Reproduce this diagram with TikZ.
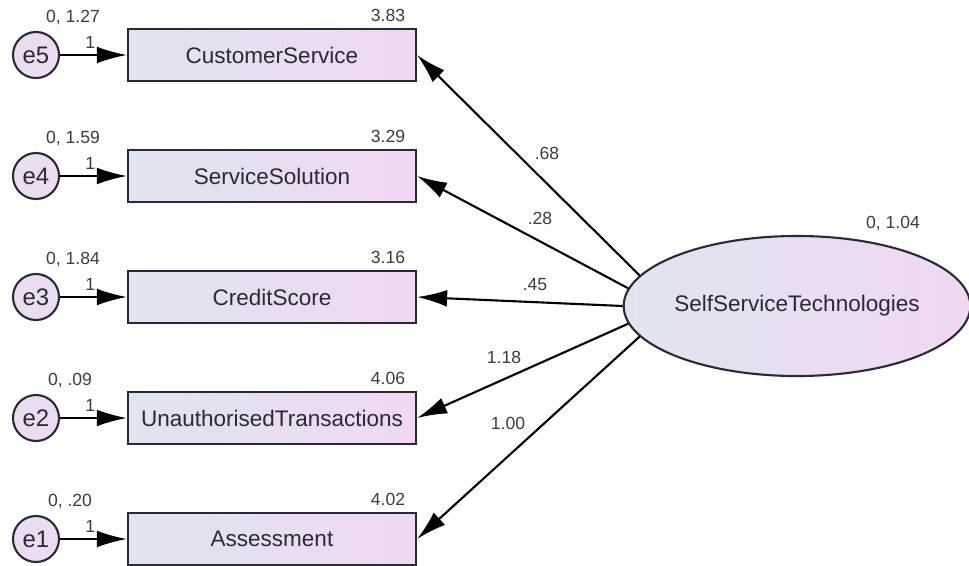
\documentclass[tikz,border=0pt]{standalone}
\usepackage{fontspec}
\setmainfont{Liberation Sans}
\usetikzlibrary{arrows.meta,positioning,shapes.geometric}

\definecolor{boxleft}{HTML}{DFE5EE}
\definecolor{boxright}{HTML}{F0D8F2}
\definecolor{errfill}{HTML}{EADDF0}
\definecolor{estgray}{HTML}{3C3C3C}
\definecolor{inkdark}{HTML}{2A2A36}

\begin{document}
\begin{tikzpicture}[x=0.025cm,y=-0.025cm,
    obs/.style={draw=inkdark,line width=1.5pt,minimum width=7.2cm,minimum height=1.3cm,
      left color=boxleft,right color=boxright,text=inkdark,inner sep=0pt,
      font=\fontsize{16}{18}\selectfont},
    err/.style={circle,draw=inkdark,line width=1.5pt,fill=errfill,minimum size=1.15cm,
      inner sep=0pt,text=inkdark,font=\fontsize{17}{19}\selectfont},
    latent/.style={ellipse,draw=inkdark,line width=1.5pt,minimum width=8.5cm,minimum height=3.5cm,
      left color=boxleft,right color=boxright,text=inkdark,inner sep=0pt,
      font=\fontsize{16}{18}\selectfont},
    path_arrow/.style={draw=black,line width=1.5pt,-{Latex[length=0.75cm,width=0.42cm]}},
    est/.style={text=estgray,inner sep=0pt,font=\fontsize{12.5}{14}\selectfont}]

    \useasboundingbox (0,0) rectangle (969,566);

    % latent variable
    \node[latent] at (797,306) (sst) {SelfServiceTechnologies};
    \node[est] at (893,223) (sst_var) {0, 1.04};

    % indicators
    \node[obs] at (272,55)  (cust_service) {CustomerService};
    \node[obs] at (272,176) (serv_solution) {ServiceSolution};
    \node[obs] at (272,297) (credit_score) {CreditScore};
    \node[obs] at (272,418) (unauth_trans) {UnauthorisedTransactions};
    \node[obs] at (272,539) (assessment) {Assessment};

    \node[est] at (388,15)  (cust_service_mean) {3.83};
    \node[est] at (388,136) (serv_solution_mean) {3.29};
    \node[est] at (388,257) (credit_score_mean) {3.16};
    \node[est] at (388,378) (unauth_trans_mean) {4.06};
    \node[est] at (388,499) (assessment_mean) {4.02};

    % error terms
    \node[err] at (36,55)  (e_5) {e5};
    \node[err] at (36,176) (e_4) {e4};
    \node[err] at (36,297) (e_3) {e3};
    \node[err] at (36,418) (e_2) {e2};
    \node[err] at (36,539) (e_1) {e1};

    \node[est] at (73,17)  (e_5_var) {0, 1.27};
    \node[est] at (73,138) (e_4_var) {0, 1.59};
    \node[est] at (73,259) (e_3_var) {0, 1.84};
    \node[est] at (70,380) (e_2_var) {0, .09};
    \node[est] at (70,501) (e_1_var) {0, .20};

    \draw[path_arrow] (e_5) -- node[est,above=4pt,pos=0.45] {1} (cust_service);
    \draw[path_arrow] (e_4) -- node[est,above=4pt,pos=0.45] {1} (serv_solution);
    \draw[path_arrow] (e_3) -- node[est,above=4pt,pos=0.45] {1} (credit_score);
    \draw[path_arrow] (e_2) -- node[est,above=4pt,pos=0.45] {1} (unauth_trans);
    \draw[path_arrow] (e_1) -- node[est,above=4pt,pos=0.45] {1} (assessment);

    % loadings
    \draw[path_arrow] (sst.169) -- (cust_service.east);
    \draw[path_arrow] (sst.174) -- (serv_solution.east);
    \draw[path_arrow] (sst.180) -- (credit_score.east);
    \draw[path_arrow] (sst.186) -- (unauth_trans.east);
    \draw[path_arrow] (sst.191) -- (assessment.east);

    \node[est] at (547,153) (load_cs) {.68};
    \node[est] at (540,218) (load_ss) {.28};
    \node[est] at (535,285) (load_cr) {.45};
    \node[est] at (504,357) (load_ut) {1.18};
    \node[est] at (508,423) (load_as) {1.00};

\end{tikzpicture}
\end{document}
